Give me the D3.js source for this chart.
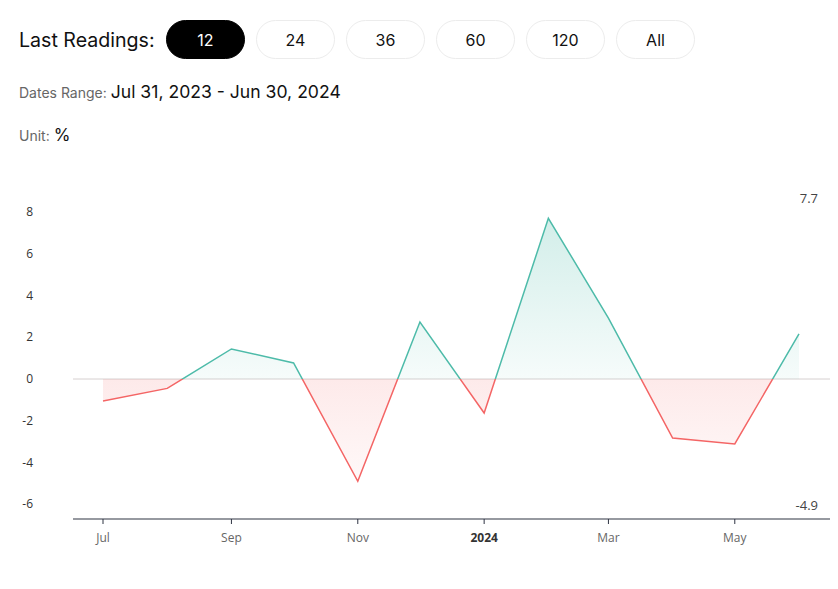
<!DOCTYPE html>
<html>
<head>
<meta charset="utf-8">
<script src="https://cdn.jsdelivr.net/npm/d3@7"></script>
<style>
  body { margin: 0; background: #fff; }
  svg { display: block; }
</style>
</head>
<body>
<div id="chart"></div>
<script>
(function () {

  // data
  var months = ["2023-07", "2023-08", "2023-09", "2023-10", "2023-11", "2023-12",
                "2024-01", "2024-02", "2024-03", "2024-04", "2024-05", "2024-06"];
  var values = [-1.05, -0.45, 1.44, 0.77, -4.9, 2.73, -1.63, 7.7, 2.92, -2.83, -3.11, 2.16];
  var readingButtons = ["12", "24", "36", "60", "120", "All"];
  var yTicks = [-6, -4, -2, 0, 2, 4, 6, 8];
  var xTickMonths = ["2023-07", "2023-09", "2023-11", "2024-01", "2024-03", "2024-05"];
  var datesRange = "Jul 31, 2023 - Jun 30, 2024";
  var unit = "%";

  var w = 838, h = 589;
  var parse = d3.timeParse("%Y-%m");
  var data = months.map(function (m, i) { return { date: parse(m), value: values[i] }; });

  var svg = d3.select("#chart").append("svg")
    .attr("width", w).attr("height", h);

  var headFont = "Inter, 'Noto Sans', sans-serif";
  var axisFont = "'Open Sans', 'Noto Sans', sans-serif";

  // header
  svg.append("text")
    .attr("x", 19).attr("y", 47)
    .style("font-family", headFont).style("font-size", "19.6px").style("fill", "#111")
    .text("Last Readings:");

  var btn = svg.selectAll(".btn").data(readingButtons).enter()
    .append("g").attr("class", "btn")
    .attr("transform", function (d, i) { return "translate(" + (166 + i * 90) + ",20)"; });
  btn.append("rect")
    .attr("x", 0.5).attr("y", 0.5).attr("width", 78).attr("height", 38).attr("rx", 19)
    .style("fill", function (d, i) { return i === 0 ? "#000" : "#fff"; })
    .style("stroke", function (d, i) { return i === 0 ? "#000" : "#ececec"; });
  btn.append("text")
    .attr("x", 39.5).attr("y", 25.5).attr("text-anchor", "middle")
    .style("font-family", headFont).style("font-size", "16px")
    .style("fill", function (d, i) { return i === 0 ? "#fff" : "#111"; })
    .text(function (d) { return d; });

  var dr = svg.append("text").attr("x", 19).attr("y", 98).style("font-family", headFont);
  dr.append("tspan").style("font-size", "14px").style("fill", "#666").text("Dates Range: ");
  dr.append("tspan").style("font-size", "17.6px").style("fill", "#111").text(datesRange);

  var un = svg.append("text").attr("x", 19).attr("y", 141).style("font-family", headFont);
  un.append("tspan").style("font-size", "14px").style("fill", "#666").text("Unit: ");
  un.append("tspan").style("font-size", "17px").style("fill", "#111").text(unit);

  // scales
  var x = d3.scaleTime()
    .domain(d3.extent(data, function (d) { return d.date; }))
    .range([103, 799]);
  var y = d3.scaleLinear()
    .domain([-6, 8])
    .range([504.25, 212]);

  var plotLeft = 73, plotRight = 830, axisY = 519;

  // y labels
  svg.selectAll(".ylab").data(yTicks).enter()
    .append("text").attr("class", "ylab")
    .attr("x", 33).attr("y", function (d) { return y(d) + 4; })
    .attr("text-anchor", "end")
    .style("font-family", axisFont).style("font-size", "12px").style("fill", "#333")
    .text(function (d) { return d; });

  // zero line
  svg.append("line")
    .attr("x1", plotLeft).attr("x2", plotRight)
    .attr("y1", y(0)).attr("y2", y(0))
    .style("stroke", "#d6d0d0").style("stroke-width", 1);

  // gradients and clips
  var defs = svg.append("defs");
  var gUp = defs.append("linearGradient").attr("id", "gUp")
    .attr("gradientUnits", "userSpaceOnUse")
    .attr("x1", 0).attr("x2", 0).attr("y1", y(d3.max(values))).attr("y2", y(0));
  gUp.append("stop").attr("offset", "0%").attr("stop-color", "#4dbba9").attr("stop-opacity", 0.25);
  gUp.append("stop").attr("offset", "100%").attr("stop-color", "#4dbba9").attr("stop-opacity", 0.05);
  var gDown = defs.append("linearGradient").attr("id", "gDown")
    .attr("gradientUnits", "userSpaceOnUse")
    .attr("x1", 0).attr("x2", 0).attr("y1", y(0)).attr("y2", y(d3.min(values)));
  gDown.append("stop").attr("offset", "0%").attr("stop-color", "#f25c5c").attr("stop-opacity", 0.13);
  gDown.append("stop").attr("offset", "100%").attr("stop-color", "#f25c5c").attr("stop-opacity", 0.04);

  defs.append("clipPath").attr("id", "clipUp").append("rect")
    .attr("x", 0).attr("y", 0).attr("width", w).attr("height", y(0));
  defs.append("clipPath").attr("id", "clipDown").append("rect")
    .attr("x", 0).attr("y", y(0)).attr("width", w).attr("height", h - y(0));

  var area = d3.area()
    .x(function (d) { return x(d.date); })
    .y0(y(0))
    .y1(function (d) { return y(d.value); });
  var line = d3.line()
    .x(function (d) { return x(d.date); })
    .y(function (d) { return y(d.value); });

  svg.append("path").datum(data).attr("d", area)
    .attr("clip-path", "url(#clipUp)").style("fill", "url(#gUp)");
  svg.append("path").datum(data).attr("d", area)
    .attr("clip-path", "url(#clipDown)").style("fill", "url(#gDown)");
  svg.append("path").datum(data).attr("d", line)
    .attr("clip-path", "url(#clipUp)")
    .style("fill", "none").style("stroke", "#4dbba9").style("stroke-width", 1.5);
  svg.append("path").datum(data).attr("d", line)
    .attr("clip-path", "url(#clipDown)")
    .style("fill", "none").style("stroke", "#f46565").style("stroke-width", 1.5);

  // x axis
  svg.append("line")
    .attr("x1", plotLeft).attr("x2", plotRight)
    .attr("y1", axisY).attr("y2", axisY)
    .style("stroke", "#2f3443").style("stroke-width", 1.2);

  var xt = svg.selectAll(".xt").data(xTickMonths.map(parse)).enter()
    .append("g").attr("class", "xt")
    .attr("transform", function (d) { return "translate(" + x(d) + "," + axisY + ")"; });
  xt.append("line").attr("y1", 0).attr("y2", 5).style("stroke", "#2f3443");
  xt.append("text")
    .attr("y", 23).attr("text-anchor", "middle")
    .style("font-family", axisFont).style("font-size", "12px")
    .style("fill", function (d) { return d.getMonth() === 0 ? "#333" : "#666"; })
    .style("font-weight", function (d) { return d.getMonth() === 0 ? "bold" : "normal"; })
    .text(function (d) { return d.getMonth() === 0 ? d3.timeFormat("%Y")(d) : d3.timeFormat("%b")(d); });

  // max / min labels
  svg.append("text")
    .attr("x", 818).attr("y", 203).attr("text-anchor", "end")
    .style("font-family", axisFont).style("font-size", "13px").style("fill", "#444")
    .text(d3.max(values));
  svg.append("text")
    .attr("x", 818).attr("y", 510).attr("text-anchor", "end")
    .style("font-family", axisFont).style("font-size", "13px").style("fill", "#444")
    .text("-" + Math.abs(d3.min(values)));

})();
</script>
</body>
</html>
